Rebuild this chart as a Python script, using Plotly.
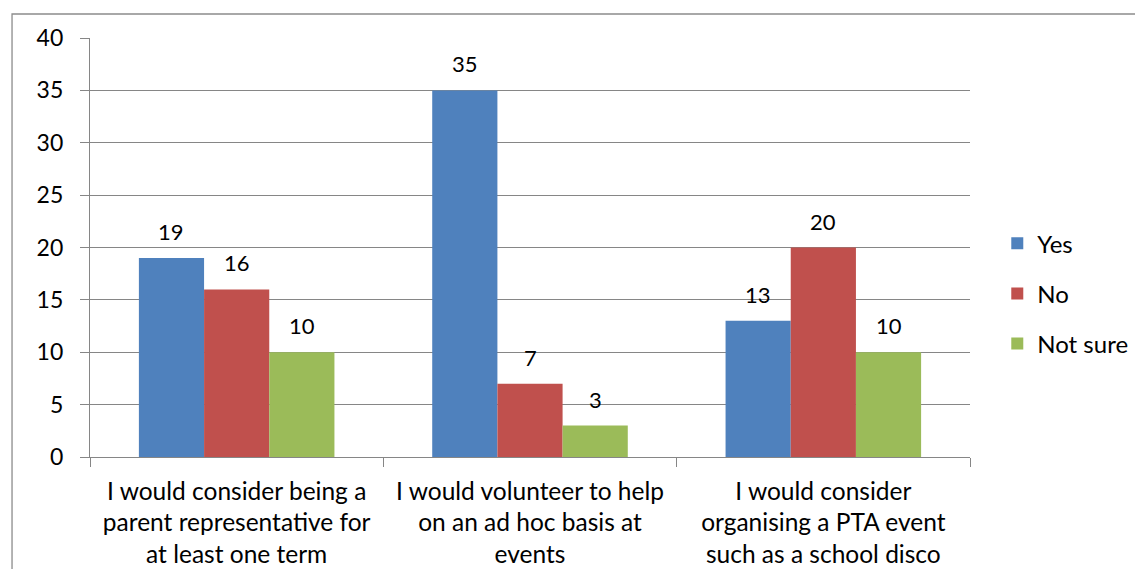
import plotly.graph_objects as go

categories = [
    "I would consider being a<br>parent representative for<br>at least one term",
    "I would volunteer to help<br>on an ad hoc basis at<br>events",
    "I would consider<br>organising a PTA event<br>such as a school disco",
]
series_names = ["Yes", "No", "Not sure"]
yes_vals = [19, 35, 13]
no_vals = [16, 7, 20]
notsure_vals = [10, 3, 10]
y_ticks = [0, 5, 10, 15, 20, 25, 30, 35, 40]

colors = ["#4F81BD", "#C0504D", "#9BBB59"]
FONT = "Lato"
FS = 24
GRID = "#868686"
BARGAP = 1.5 / 4.5

fig = go.Figure()
all_vals = [yes_vals, no_vals, notsure_vals]
for name, vals, col in zip(series_names, all_vals, colors):
    fig.add_trace(go.Bar(
        name=name, x=categories, y=vals, legendgroup=name,
        marker=dict(color=col, line=dict(width=0)),
    ))

bar_w = (1 - BARGAP) / len(series_names)
for si, vals in enumerate(all_vals):
    off = (si - (len(series_names) - 1) / 2) * bar_w
    for ci, v in enumerate(vals):
        fig.add_annotation(
            x=ci + off, y=v, xref="x", yref="y", text=str(v),
            showarrow=False, yanchor="bottom", yshift=11,
            font=dict(family=FONT, size=FS - 2, color="#000000"),
        )

fig.update_layout(
    barmode="group", bargap=BARGAP, bargroupgap=0,
    width=1135, height=561,
    margin=dict(l=82, r=173, t=30, b=112, autoexpand=False),
    paper_bgcolor="white", plot_bgcolor="white",
    font=dict(family=FONT, size=FS, color="#000000"),
    legend=dict(
        x=1.031, xanchor="left", xref="paper", y=0.39, yanchor="middle",
        font=dict(family=FONT, size=FS), itemsizing="constant",
        tracegroupgap=16, traceorder="grouped", bgcolor="rgba(0,0,0,0)",
    ),
    showlegend=True,
    shapes=[dict(type="rect", xref="paper", yref="paper",
                 x0=-0.0886, x1=1.5, y0=-0.5, y1=1.0573,
                 line=dict(color="#8C8C8C", width=1.3), fillcolor="rgba(0,0,0,0)",
                 layer="below")],
)
fig.update_xaxes(
    type="category", range=[-0.5, 2.5],
    showline=True, linecolor=GRID, linewidth=1.3,
    ticks="outside", tickson="boundaries", ticklen=9, tickcolor=GRID, tickwidth=1.3,
    showgrid=False, tickfont=dict(family=FONT, size=FS + 0.5), ticklabelstandoff=12,
)
fig.update_yaxes(
    range=[0, 40], tickvals=y_ticks,
    showline=True, linecolor=GRID, linewidth=1.3,
    showgrid=True, gridcolor=GRID, gridwidth=1.3,
    ticks="outside", ticklen=9, tickcolor=GRID, tickwidth=1.3,
    zeroline=False, tickfont=dict(family=FONT, size=FS - 1), ticklabelstandoff=12,
)

fig.write_html("out.html")
